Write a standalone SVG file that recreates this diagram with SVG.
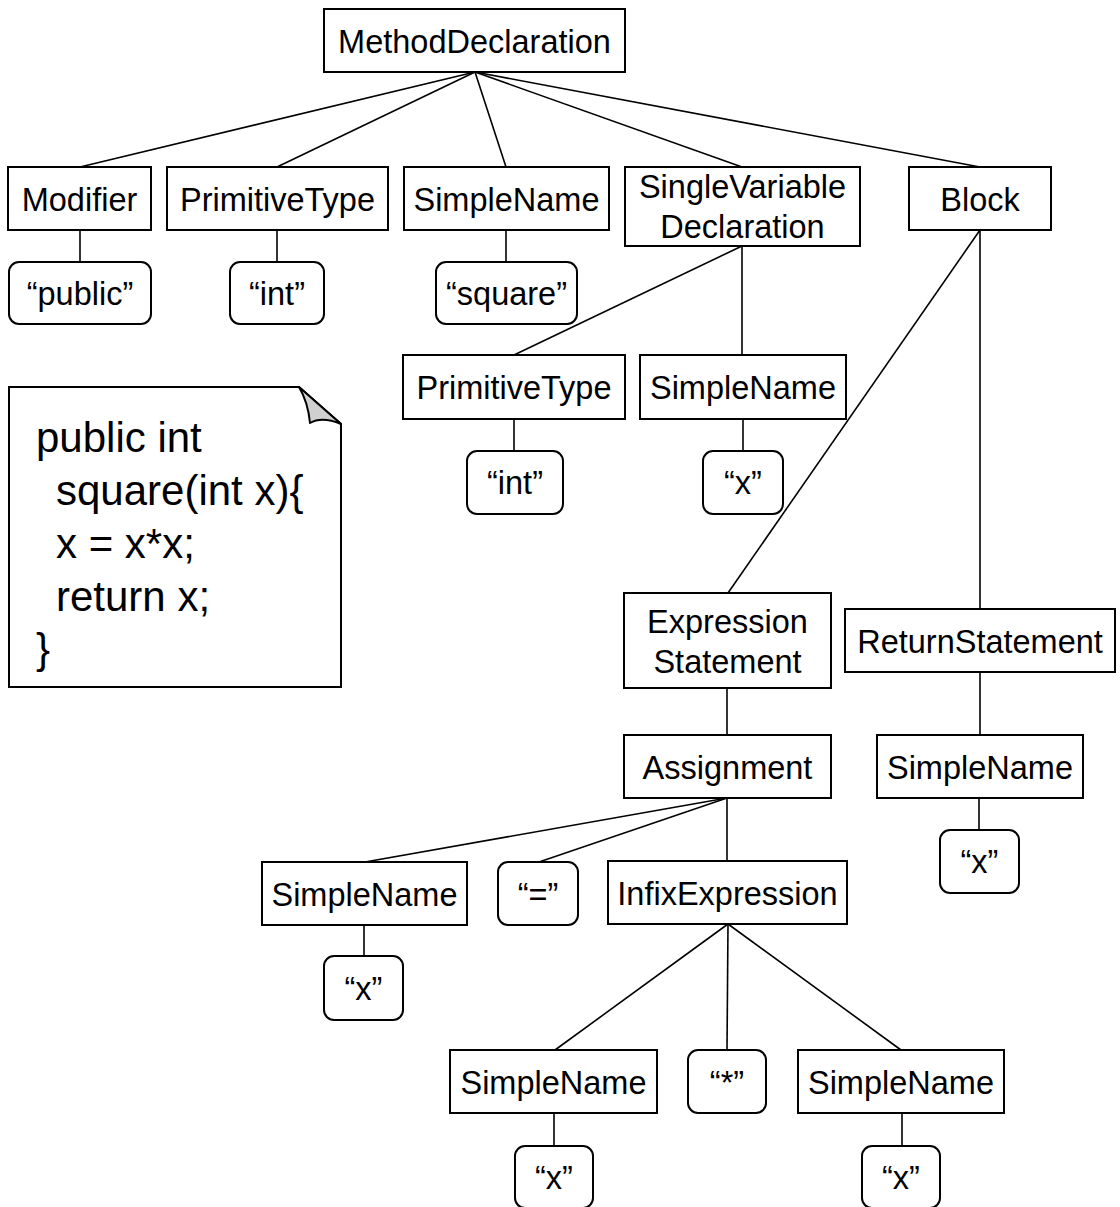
<svg xmlns="http://www.w3.org/2000/svg" width="1120" height="1207" viewBox="0 0 1120 1207">
  <style>
    .box { fill: #ffffff; stroke: #000000; stroke-width: 2; }
    .leaf { fill: #ffffff; stroke: #000000; stroke-width: 2; }
    .edge { stroke: #000000; stroke-width: 1.6; fill: none; }
    text { font-family: "Liberation Sans", Arial, sans-serif; font-size: 32.5px; fill: #000000; text-anchor: middle; }
    .code { font-size: 42px; text-anchor: start; }
  </style>
  <rect width="1120" height="1207" fill="#ffffff"/>

  <!-- tree edges -->
  <g id="connectors">
    <line class="edge" x1="475" y1="72" x2="80" y2="167"/>
    <line class="edge" x1="475" y1="72" x2="277" y2="167"/>
    <line class="edge" x1="475" y1="72" x2="506" y2="167"/>
    <line class="edge" x1="475" y1="72" x2="742" y2="167"/>
    <line class="edge" x1="475" y1="72" x2="980" y2="167"/>
    <line class="edge" x1="80" y1="230" x2="80" y2="262"/>
    <line class="edge" x1="277" y1="230" x2="277" y2="262"/>
    <line class="edge" x1="506" y1="230" x2="506" y2="262"/>
    <line class="edge" x1="742" y1="246" x2="514" y2="355"/>
    <line class="edge" x1="742" y1="246" x2="742" y2="355"/>
    <line class="edge" x1="514" y1="419" x2="514" y2="451"/>
    <line class="edge" x1="743" y1="419" x2="743" y2="451"/>
    <line class="edge" x1="980" y1="230" x2="728" y2="593"/>
    <line class="edge" x1="980" y1="230" x2="980" y2="609"/>
    <line class="edge" x1="727" y1="688" x2="727" y2="735"/>
    <line class="edge" x1="980" y1="672" x2="980" y2="735"/>
    <line class="edge" x1="979" y1="798" x2="979" y2="830"/>
    <line class="edge" x1="727" y1="798" x2="365" y2="862"/>
    <line class="edge" x1="727" y1="798" x2="539" y2="862"/>
    <line class="edge" x1="727" y1="798" x2="727" y2="861"/>
    <line class="edge" x1="364" y1="925" x2="364" y2="956"/>
    <line class="edge" x1="728" y1="924" x2="555" y2="1050"/>
    <line class="edge" x1="728" y1="924" x2="727" y2="1050"/>
    <line class="edge" x1="728" y1="924" x2="901" y2="1050"/>
    <line class="edge" x1="554" y1="1113" x2="554" y2="1146"/>
    <line class="edge" x1="902" y1="1113" x2="902" y2="1146"/>
  </g>

  <!-- source snippet note -->
  <g id="note">
    <path d="M9,387 L299,387 L341,424 L341,687 L9,687 Z" fill="#ffffff" stroke="#000000" stroke-width="2"/>
    <path d="M299,387 L341,424 Q322,416 310,423 Q308,402 299,387 Z" fill="#d0d0d0" stroke="#000000" stroke-width="2" stroke-linejoin="round"/>
    <text class="code" x="36" y="452">public int</text>
    <text class="code" x="56" y="505">square(int x){</text>
    <text class="code" x="56" y="558">x = x*x;</text>
    <text class="code" x="56" y="611">return x;</text>
    <text class="code" x="36" y="663">}</text>
  </g>

  <g id="method-declaration"><rect class="box" x="324" y="9" width="301" height="63"/><text x="474.5" y="53">MethodDeclaration</text></g>

  <g id="modifier"><rect class="box" x="8" y="167" width="143" height="63"/><text x="79.5" y="211">Modifier</text></g>
  <g id="modifier-public"><rect class="leaf" x="9" y="262" width="142" height="62" rx="10"/><text x="80" y="305">“public”</text></g>

  <g id="return-type"><rect class="box" x="167" y="167" width="221" height="63"/><text x="277.5" y="211">PrimitiveType</text></g>
  <g id="return-type-int"><rect class="leaf" x="230" y="262" width="94" height="62" rx="10"/><text x="277" y="305">“int”</text></g>

  <g id="method-name"><rect class="box" x="404" y="167" width="205" height="63"/><text x="506.5" y="211">SimpleName</text></g>
  <g id="method-name-square"><rect class="leaf" x="436" y="262" width="141" height="62" rx="10"/><text x="506.5" y="305">“square”</text></g>

  <g id="param"><rect class="box" x="625" y="167" width="235" height="79"/><text x="742.5" y="198">SingleVariable</text><text x="742.5" y="238">Declaration</text></g>

  <g id="param-type"><rect class="box" x="403" y="355" width="222" height="64"/><text x="514" y="399">PrimitiveType</text></g>
  <g id="param-type-int"><rect class="leaf" x="467" y="451" width="96" height="63" rx="10"/><text x="515" y="494">“int”</text></g>

  <g id="param-name"><rect class="box" x="640" y="355" width="206" height="64"/><text x="743" y="399">SimpleName</text></g>
  <g id="param-name-x"><rect class="leaf" x="703" y="451" width="80" height="63" rx="10"/><text x="743" y="494">“x”</text></g>

  <g id="block"><rect class="box" x="909" y="167" width="142" height="63"/><text x="980" y="211">Block</text></g>

  <g id="expression-statement"><rect class="box" x="624" y="593" width="207" height="95"/><text x="727.5" y="633">Expression</text><text x="727.5" y="673">Statement</text></g>

  <g id="return-statement"><rect class="box" x="845" y="609" width="270" height="63"/><text x="980" y="653">ReturnStatement</text></g>

  <g id="assignment"><rect class="box" x="624" y="735" width="207" height="63"/><text x="727.5" y="779">Assignment</text></g>

  <g id="return-name"><rect class="box" x="877" y="735" width="206" height="63"/><text x="980" y="779">SimpleName</text></g>
  <g id="return-name-x"><rect class="leaf" x="940" y="830" width="79" height="63" rx="10"/><text x="979.5" y="873">“x”</text></g>

  <g id="lhs-name"><rect class="box" x="262" y="862" width="205" height="63"/><text x="364.5" y="906">SimpleName</text></g>
  <g id="lhs-name-x"><rect class="leaf" x="324" y="956" width="79" height="64" rx="10"/><text x="363.5" y="1000">“x”</text></g>

  <g id="assign-op"><rect class="leaf" x="498" y="862" width="80" height="63" rx="10"/><text x="538" y="906">“=”</text></g>

  <g id="infix"><rect class="box" x="608" y="861" width="239" height="63"/><text x="727.5" y="905">InfixExpression</text></g>

  <g id="left-operand"><rect class="box" x="450" y="1050" width="207" height="63"/><text x="553.5" y="1094">SimpleName</text></g>
  <g id="left-operand-x"><rect class="leaf" x="515" y="1146" width="78" height="62" rx="10"/><text x="554" y="1189">“x”</text></g>

  <g id="infix-op"><rect class="leaf" x="688" y="1050" width="78" height="63" rx="10"/><text x="727" y="1094">“*”</text></g>

  <g id="right-operand"><rect class="box" x="798" y="1050" width="206" height="63"/><text x="901" y="1094">SimpleName</text></g>
  <g id="right-operand-x"><rect class="leaf" x="862" y="1146" width="78" height="62" rx="10"/><text x="901" y="1189">“x”</text></g>
</svg>
